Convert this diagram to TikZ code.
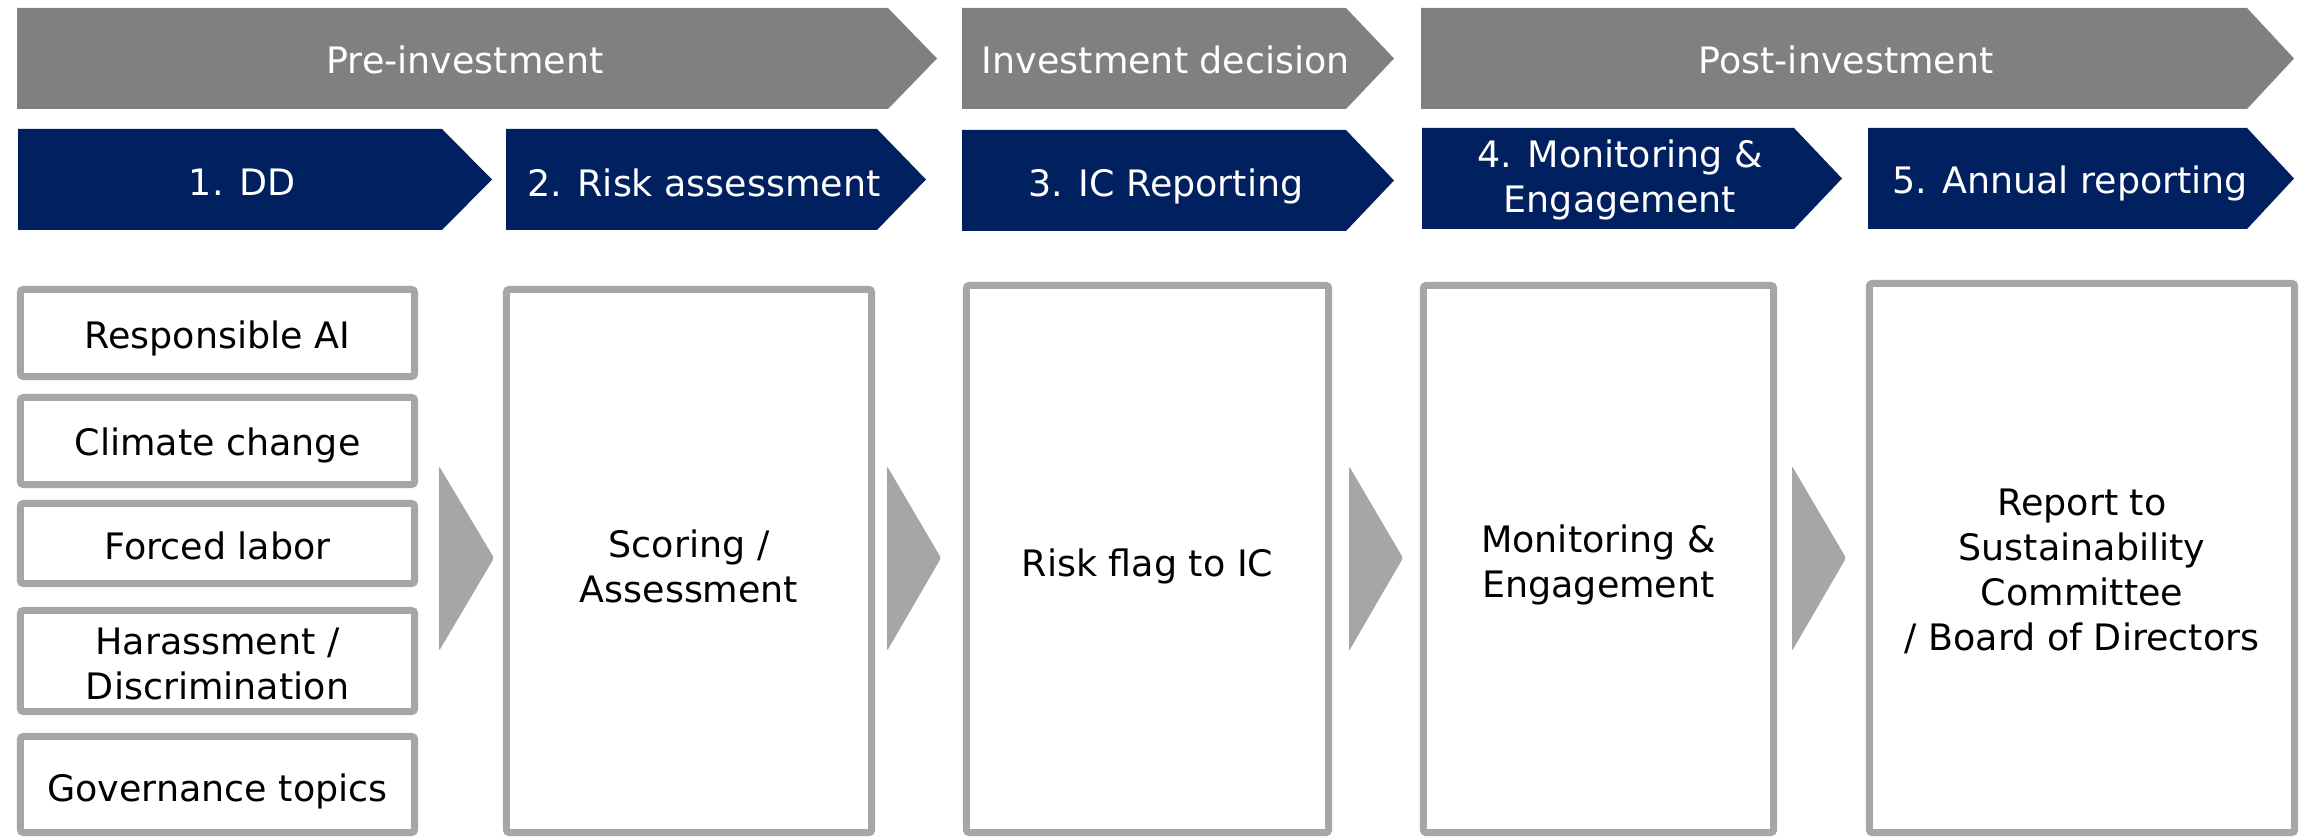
\documentclass[tikz,border=0pt]{standalone}
\usepackage{fontspec}
\setmainfont{DejaVu Sans}
\definecolor{phasegray}{HTML}{808080}
\definecolor{stepnavy}{HTML}{002060}
\definecolor{boxgray}{HTML}{A6A6A6}
\begin{document}
\begin{tikzpicture}[x=0.01cm,y=-0.01cm,
  phase/.style={fill=phasegray},
  stepshape/.style={fill=stepnavy},
  lbl/.style={font=\fontsize{10.36}{12.8}\selectfont, align=center, inner sep=0pt},
  wtext/.style={lbl, text=white},
  btext/.style={lbl, text=black},
  frame/.style={draw=boxgray, line width=0.07cm, rounded corners=0.03cm, fill=white, inner sep=0pt},
  flow/.style={fill=boxgray, rounded corners=0.02cm}]
\useasboundingbox (0,0) rectangle (2303,837);
\fill[white] (0,0) rectangle (2303,837);

% phase arrows (top row)
\fill[phase] (17,8) -- (888,8) -- (937,58.5) -- (888,109) -- (17,109) -- cycle;
\fill[phase] (962,8) -- (1346,8) -- (1394,58.5) -- (1346,109) -- (962,109) -- cycle;
\fill[phase] (1421,8) -- (2247,8) -- (2294,58.5) -- (2247,109) -- (1421,109) -- cycle;
\node[wtext] (pre) at (465,60) {Pre-investment};
\node[wtext] (dec) at (1166,60) {Investment decision};
\node[wtext] (post) at (1846,60) {Post-investment};

% step arrows (second row)
\fill[stepshape] (18,129) -- (442,129) -- (492,179.5) -- (442,230) -- (18,230) -- cycle;
\fill[stepshape] (506,129) -- (877,129) -- (926,179.5) -- (877,230) -- (506,230) -- cycle;
\fill[stepshape] (962,130) -- (1346,130) -- (1394,180.5) -- (1346,231) -- (962,231) -- cycle;
\fill[stepshape] (1422,128) -- (1794,128) -- (1842,178.5) -- (1794,229) -- (1422,229) -- cycle;
\fill[stepshape] (1868,128) -- (2247,128) -- (2294,178.5) -- (2247,229) -- (1868,229) -- cycle;
\node[wtext] (s1) at (242,182.5) {1. DD};
\node[wtext] (s2) at (704,183) {2. Risk assessment};
\node[wtext] (s3) at (1166,186) {3. IC Reporting};
\node[wtext] (s4) at (1620,180) {4. Monitoring \&\\Engagement};
\node[wtext] (s5) at (2070,183) {5. Annual reporting};

% DD topic boxes
\node[frame, minimum width=3.94cm, minimum height=0.87cm] (ai) at (217.5,333) {};
\node[frame, minimum width=3.94cm, minimum height=0.87cm] (climate) at (217.5,441) {};
\node[frame, minimum width=3.94cm, minimum height=0.80cm] (forced) at (217.5,543.5) {};
\node[frame, minimum width=3.94cm, minimum height=1.01cm] (harass) at (217.5,661) {};
\node[frame, minimum width=3.94cm, minimum height=0.96cm] (gov) at (217.5,784.5) {};
\node[btext] (ait) at (217.5,338) {Responsible AI};
\node[btext] (climatet) at (217.5,445) {Climate change};
\node[btext] (forcedt) at (217.5,545.5) {Forced labor};
\node[btext] (harasst) at (217.5,664) {Harassment /\\Discrimination};
\node[btext] (govt) at (217.5,791) {Governance topics};

% big boxes
\node[frame, minimum width=3.65cm, minimum height=5.43cm] (score) at (689,561) {};
\node[frame, minimum width=3.62cm, minimum height=5.47cm] (flag) at (1147.5,559) {};
\node[frame, minimum width=3.50cm, minimum height=5.47cm] (mon) at (1598.5,559) {};
\node[frame, minimum width=4.25cm, minimum height=5.49cm] (rep) at (2082,558) {};
\node[btext] (scoret) at (689,566) {Scoring /\\Assessment};
\node[btext] (flagt) at (1147.5,566) {Risk flag to IC};
\node[btext] (mont) at (1598.5,564.5) {Monitoring \&\\Engagement};
\node[btext] (rept) at (2082,571) {Report to\\Sustainability\\Committee\\/ Board of Directors};

% flow triangles
\fill[flow] (439,466) -- (494,558) -- (439,651) -- cycle;
\fill[flow] (887,466) -- (941,558) -- (887,651) -- cycle;
\fill[flow] (1349,466) -- (1403,558) -- (1349,651) -- cycle;
\fill[flow] (1792,466) -- (1846,558) -- (1792,651) -- cycle;
\end{tikzpicture}
\end{document}
